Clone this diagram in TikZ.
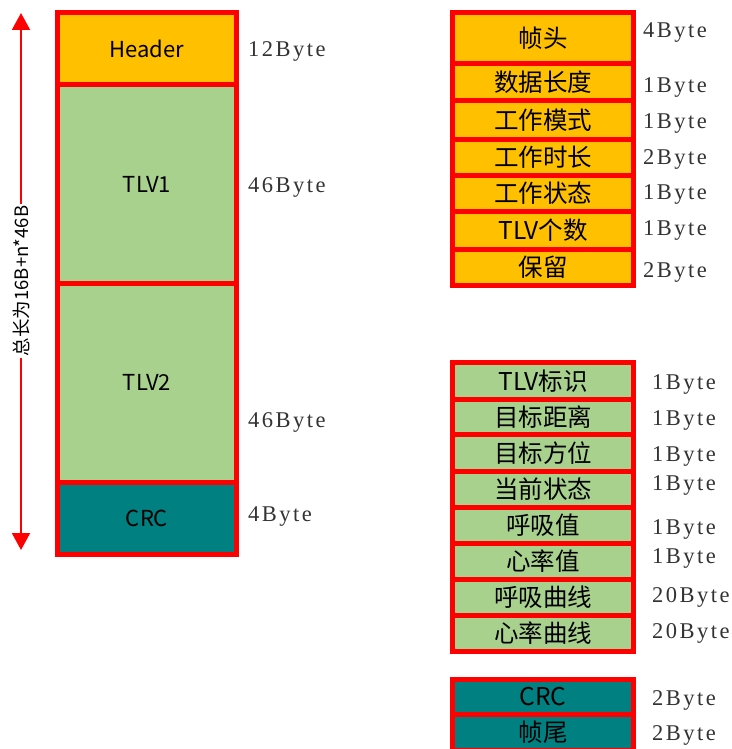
\documentclass[tikz,border=0pt]{standalone}
\usepackage{fontspec}
\usetikzlibrary{arrows.meta}
\newfontfamily\cjk{Noto Sans CJK SC}
\newfontfamily\bytefont[LetterSpace=11]{Liberation Serif}
\definecolor{hdr}{HTML}{FFC000}
\definecolor{tlv}{HTML}{A9D18E}
\definecolor{crc}{HTML}{008080}
\definecolor{bred}{HTML}{FF0000}
\tikzset{
  fbox/.style={draw=bred, line width=5pt, inner sep=0pt, outer sep=0pt, font=\cjk\fontsize{24.5}{26}\selectfont, text=black},
  lbox/.style={fbox, minimum width=179pt, font=\cjk\fontsize{22}{24}\selectfont},
  rbox/.style={fbox, minimum width=181pt},
  blab/.style={anchor=west, inner sep=0pt, yshift=-2pt, font=\bytefont\fontsize{22.5}{24}\selectfont, text=black!80},
}
\begin{document}
\begin{tikzpicture}[x=1pt,y=-1pt]
\clip (0,0) rectangle (731,749);
\fill[white] (0,0) rectangle (731,749);
% left stack
\node[lbox, fill=hdr, minimum height=72pt] (header) at (147,48.5) {Header};
\node[lbox, fill=tlv, minimum height=199pt] (tlv1) at (147,184) {TLV1};
\node[lbox, fill=tlv, minimum height=198.5pt] (tlv2) at (147,382.75) {TLV2};
\node[lbox, fill=crc, minimum height=72pt] (crc) at (147,518) {CRC};
\node[blab] (l1) at (248,49) {12Byte};
\node[blab] (l2) at (248,185) {46Byte};
\node[blab] (l3) at (248,420) {46Byte};
\node[blab] (l4) at (248,515) {4Byte};
% arrow
\coordinate (atop) at (21,13);
\coordinate (abot) at (21,550);
\draw[bred, line width=2pt, {Triangle[width=18pt,length=17pt]}-{Triangle[width=18pt,length=17pt]}] (atop) -- (abot);
\node[fill=white, rotate=90, inner sep=2pt, font=\cjk\fontsize{18.5}{20}\selectfont] (total) at (21,281) {总长为16B+n*46B};
% right top group
\node[rbox, fill=hdr, minimum height=51pt] (r1) at (543,38) {帧头};
\node[rbox, fill=hdr, minimum height=37.5pt] (r2) at (543,82.25) {数据长度};
\node[rbox, fill=hdr, minimum height=38pt] (r3) at (543,120) {工作模式};
\node[rbox, fill=hdr, minimum height=36.5pt] (r4) at (543,157.25) {工作时长};
\node[rbox, fill=hdr, minimum height=35.5pt] (r5) at (543,193.25) {工作状态};
\node[rbox, fill=hdr, minimum height=38pt] (r6) at (543,230) {TLV个数};
\node[rbox, fill=hdr, minimum height=36.5pt] (r7) at (543,267.25) {保留};
\node[blab] (b1) at (643,31) {4Byte};
\node[blab] (b2) at (643,86) {1Byte};
\node[blab] (b3) at (643,122) {1Byte};
\node[blab] (b4) at (643,157) {2Byte};
\node[blab] (b5) at (643,193) {1Byte};
\node[blab] (b6) at (643,228) {1Byte};
\node[blab] (b7) at (643,270) {2Byte};
% right middle group
\node[rbox, fill=tlv, minimum height=36.5pt] (m1) at (543,380.75) {TLV标识};
\node[rbox, fill=tlv, minimum height=35.5pt] (m2) at (543,416.75) {目标距离};
\node[rbox, fill=tlv, minimum height=36.5pt] (m3) at (543,452.75) {目标方位};
\node[rbox, fill=tlv, minimum height=36pt] (m4) at (543,489) {当前状态};
\node[rbox, fill=tlv, minimum height=36pt] (m5) at (543,525) {呼吸值};
\node[rbox, fill=tlv, minimum height=36.5pt] (m6) at (543,561.25) {心率值};
\node[rbox, fill=tlv, minimum height=35.5pt] (m7) at (543,597.25) {呼吸曲线};
\node[rbox, fill=tlv, minimum height=36pt] (m8) at (543,633) {心率曲线};
\node[blab] (c1) at (652,382) {1Byte};
\node[blab] (c2) at (652,418) {1Byte};
\node[blab] (c3) at (652,454) {1Byte};
\node[blab] (c4) at (652,483) {1Byte};
\node[blab] (c5) at (652,527) {1Byte};
\node[blab] (c6) at (652,556) {1Byte};
\node[blab] (c7) at (652,595) {20Byte};
\node[blab] (c8) at (652,631) {20Byte};
% right bottom group
\node[rbox, fill=crc, minimum height=35pt] (e1) at (543,696.5) {CRC};
\node[rbox, fill=crc, minimum height=36pt] (e2) at (543,732) {帧尾};
\node[blab] (d1) at (652,698) {2Byte};
\node[blab] (d2) at (652,733) {2Byte};
\end{tikzpicture}
\end{document}
